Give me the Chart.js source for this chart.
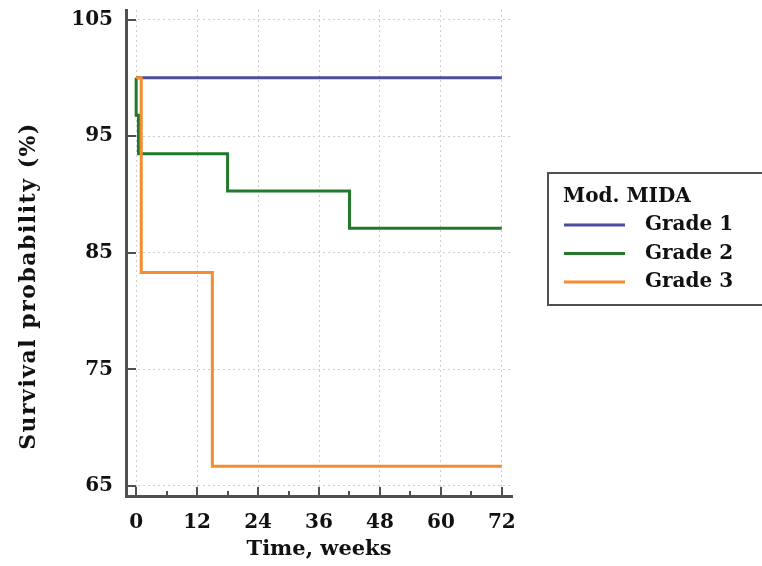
<!DOCTYPE html>
<html>
<head>
<meta charset="utf-8">
<script src="https://cdn.jsdelivr.net/npm/chart.js@4"></script>
<style>
  html, body { margin: 0; padding: 0; background: #fff; }
  #box { width: 762px; height: 566px; }
</style>
</head>
<body>
<div id="box"><canvas id="kmChart"></canvas></div>
<script>
// Données (courbes de Kaplan-Meier)
const weeksGrade1 = [0, 72];
const survGrade1 = [100, 100];
const weeksGrade2 = [0, 0, 0.45, 18, 42, 72];
const survGrade2 = [100, 96.8, 93.5, 90.3, 87.1, 87.1];
const weeksGrade3 = [0, 1, 15, 72];
const survGrade3 = [100, 83.3, 66.7, 66.7];

const xTicks = [0, 12, 24, 36, 48, 60, 72];
const yTicks = [65, 75, 85, 95, 105];
const seriesLabels = ['Grade 1', 'Grade 2', 'Grade 3'];
const legendTitle = 'Mod. MIDA';

const SERIF = '"DejaVu Serif", serif';
const toPoints = (xs, ys) => xs.map((x, i) => ({ x: x, y: ys[i] }));

/**
 * Petits traits d'axe tournés vers l'intérieur
 */
const innerTicks = {
  id: 'innerTicks',
  afterDatasetsDraw(chart) {
    const { ctx, scales: { x, y } } = chart;
    ctx.save();
    ctx.strokeStyle = '#505050';
    ctx.lineWidth = 2;
    ctx.beginPath();
    for (let v = 0; v <= 72; v += 6) {
      const px = Math.round(x.getPixelForValue(v));
      const len = v % 12 === 0 ? 9 : 5;
      ctx.moveTo(px, y.bottom);
      ctx.lineTo(px, y.bottom - len);
    }
    yTicks.forEach(v => {
      const py = Math.round(y.getPixelForValue(v));
      ctx.moveTo(x.left, py);
      ctx.lineTo(x.left + 10, py);
    });
    ctx.stroke();
    ctx.restore();
  }
};

/**
 * Titre de l'axe Y et légende encadrée
 */
const extras = {
  id: 'extras',
  afterDraw(chart) {
    const { ctx } = chart;
    ctx.save();
    ctx.fillStyle = '#111';
    ctx.font = 'bold 22px ' + SERIF;
    ctx.letterSpacing = '1.5px';
    ctx.textAlign = 'center';
    ctx.textBaseline = 'middle';
    ctx.translate(29, 286);
    ctx.rotate(-Math.PI / 2);
    ctx.fillText('Survival probability (%)', 0, 0);
    ctx.restore();

    // Légende
    ctx.save();
    ctx.strokeStyle = '#505050';
    ctx.lineWidth = 2;
    ctx.strokeRect(548, 173, 230, 132);
    ctx.fillStyle = '#111';
    ctx.font = 'bold 20px ' + SERIF;
    ctx.textBaseline = 'middle';
    ctx.textAlign = 'left';
    ctx.fillText(legendTitle, 563, 197);
    chart.data.datasets.forEach((ds, i) => {
      const cy = 225 + i * 28.5;
      ctx.strokeStyle = ds.borderColor;
      ctx.lineWidth = 3;
      ctx.beginPath();
      ctx.moveTo(564, cy);
      ctx.lineTo(625, cy);
      ctx.stroke();
      ctx.fillText(seriesLabels[i], 645, cy);
    });
    ctx.restore();
  }
};

new Chart(document.getElementById('kmChart'), {
  type: 'line',
  data: {
    datasets: [
      { label: seriesLabels[0], data: toPoints(weeksGrade1, survGrade1), borderColor: '#4d4d9f', order: 3 },
      { label: seriesLabels[1], data: toPoints(weeksGrade2, survGrade2), borderColor: '#22792a', order: 2 },
      { label: seriesLabels[2], data: toPoints(weeksGrade3, survGrade3), borderColor: '#f28e2f', order: 1 }
    ]
  },
  options: {
    responsive: true,
    maintainAspectRatio: false,
    animation: false,
    layout: { padding: { top: 10, right: 250, left: 0, bottom: 0 } },
    elements: {
      line: { stepped: 'before', borderWidth: 3, fill: false, tension: 0 },
      point: { radius: 0 }
    },
    plugins: {
      legend: { display: false },
      tooltip: { enabled: false }
    },
    scales: {
      x: {
        type: 'linear',
        min: -2,
        max: 74,
        afterBuildTicks: s => { s.ticks = xTicks.map(v => ({ value: v })); },
        afterFit: s => { s.height = 70; s.paddingLeft = 0; s.paddingRight = 0; },
        grid: { color: '#cfcfcf', lineWidth: 1, drawTicks: false },
        border: { display: true, color: '#505050', width: 3, dash: [2, 3] },
        ticks: { color: '#111', padding: 15, font: { family: SERIF, size: 20, weight: 'bold' } },
        title: { display: true, text: 'Time, weeks', color: '#111', padding: { top: 3 }, font: { family: SERIF, size: 21, weight: 'bold' } }
      },
      y: {
        type: 'linear',
        min: 64.14,
        max: 105.82,
        afterBuildTicks: s => { s.ticks = yTicks.map(v => ({ value: v })); },
        afterFit: s => { s.width = 126; s.paddingTop = 0; s.paddingBottom = 0; },
        grid: { color: '#cfcfcf', lineWidth: 1, drawTicks: false },
        border: { display: true, color: '#505050', width: 3, dash: [2, 3] },
        ticks: { color: '#111', padding: 13, font: { family: SERIF, size: 20, weight: 'bold' } }
      }
    }
  },
  plugins: [innerTicks, extras]
});
</script>
</body>
</html>
